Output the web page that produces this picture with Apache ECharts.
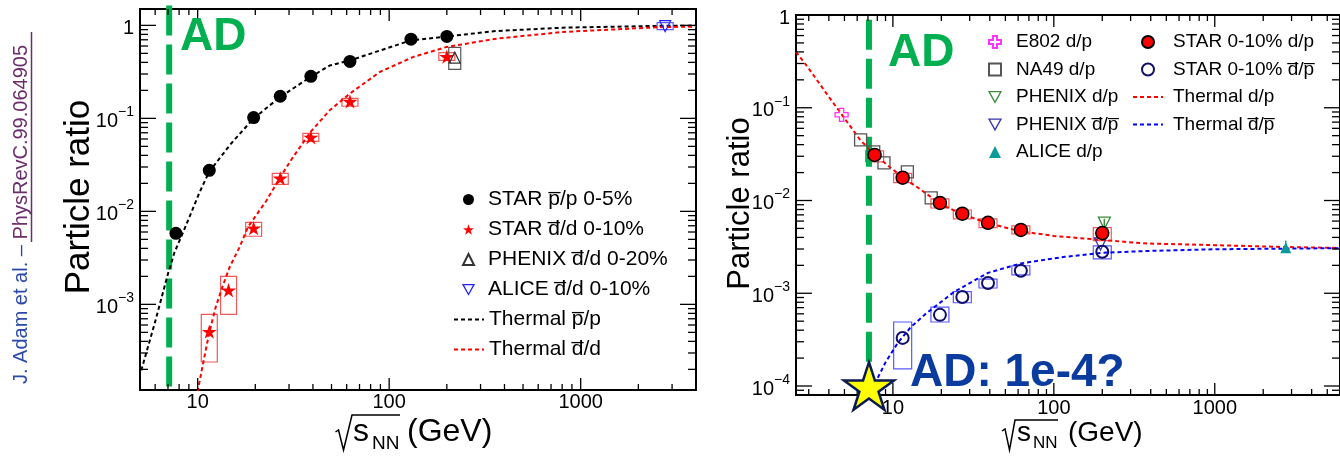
<!DOCTYPE html>
<html><head><meta charset="utf-8">
<script src="https://cdn.jsdelivr.net/npm/echarts@6/dist/echarts.min.js"></script>
<style>html,body{margin:0;padding:0;background:#fff}#c{width:1340px;height:456px}</style>
</head><body><div id="c"></div>
<script>
// ================= DATA : left panel (antinucleus / nucleus ratios) =================
const L_starPP_x = [7.7, 11.5, 19.6, 27, 39, 62.4, 130, 200];
const L_starPP_y = [0.0058, 0.0276, 0.102, 0.173, 0.283, 0.41, 0.71, 0.76];
const L_starDD_x = [11.5, 14.5, 19.6, 27, 39, 62.4, 200];
const L_starDD_y = [5.1e-4, 1.42e-3, 6.6e-3, 0.0227, 0.0625, 0.152, 0.46];
const L_starDD_lo = [2.4e-4, 7.8e-4, 5.4e-3, 0.0195, 0.0566, 0.135, 0.42];
const L_starDD_hi = [7.8e-4, 2.0e-3, 7.6e-3, 0.0256, 0.069, 0.164, 0.51];
const L_phenixDD_x = [220];
const L_phenixDD_y = [0.45];
const L_phenixDD_lo = [0.336];
const L_phenixDD_hi = [0.58];
const L_aliceDD_x = [2760];
const L_aliceDD_y = [0.98];
const L_aliceDD_lo = [0.9];
const L_aliceDD_hi = [1.07];
const L_thermPP_x = [5.08, 5.5, 5.96, 6.46, 7.0, 7.58, 8.38, 9.08, 10.2, 11.5, 15, 19.6, 27, 39, 48.9, 62.4, 130, 200, 363, 810, 2700, 4000];
const L_thermPP_y = [1.95e-4, 3.48e-4, 6.2e-4, 1.15e-3, 2.14e-3, 3.65e-3, 5.9e-3, 8.8e-3, 0.0158, 0.0268, 0.054, 0.10, 0.17, 0.28, 0.37, 0.42, 0.69, 0.76, 0.87, 0.945, 0.99, 0.995];
const L_thermDD_x = [10.0, 10.1, 10.75, 11.47, 12.42, 13.45, 14.69, 16.56, 18.3, 22.9, 27.0, 31.5, 38.8, 48.9, 62.2, 89.2, 133, 199, 363, 810, 2700, 4000];
const L_thermDD_y = [1.15e-4, 1.29e-4, 2.5e-4, 4.84e-4, 9.35e-4, 1.53e-3, 2.52e-3, 4.13e-3, 6.78e-3, 0.0131, 0.0234, 0.0384, 0.0713, 0.122, 0.184, 0.315, 0.456, 0.585, 0.72, 0.85, 0.96, 0.97];

// ================= DATA : right panel (d/p ratios) =================
const R_e802_x = [4.8];
const R_e802_y = [0.084];
const R_na49_x = [6.3, 7.6, 8.8, 12.3, 17.3];
const R_na49_y = [0.045, 0.0335, 0.0255, 0.0204, 0.0107];
const R_starDP_x = [7.7, 11.5, 19.6, 27, 39, 62.4, 200];
const R_starDP_y = [0.031, 0.0176, 9.4e-3, 7.2e-3, 5.75e-3, 4.82e-3, 4.45e-3];
const R_starDP_lo = [0.0261, 0.0156, 8.3e-3, 6.35e-3, 5.1e-3, 4.37e-3, 3.7e-3];
const R_starDP_hi = [0.0343, 0.0196, 0.0104, 7.9e-3, 6.35e-3, 5.33e-3, 5.1e-3];
const R_starDbPb_x = [11.5, 19.6, 27, 39, 62.4, 200];
const R_starDbPb_y = [3.3e-4, 5.85e-4, 9.1e-4, 1.29e-3, 1.75e-3, 2.8e-3];
const R_starDbPb_lo = [1.53e-4, 4.9e-4, 7.9e-4, 1.14e-3, 1.58e-3, 2.35e-3];
const R_starDbPb_hi = [4.9e-4, 7.1e-4, 1.04e-3, 1.42e-3, 1.98e-3, 3.25e-3];
const R_phenixDP_x = [206];
const R_phenixDP_y = [5.7e-3];
const R_phenixDP_lo = [5.2e-3];
const R_phenixDP_hi = [6.35e-3];
const R_phenixDbPb_x = [195];
const R_phenixDbPb_y = [3.4e-3];
const R_aliceDP_x = [2760];
const R_aliceDP_y = [3.1e-3];
const R_aliceDP_lo = [2.75e-3];
const R_aliceDP_hi = [3.7e-3];
const R_thermDP_x = [2.5, 3, 4, 4.8, 6.2, 7.7, 11.5, 15, 19.6, 27, 39, 62.4, 100, 200, 363, 1000, 2760, 6000];
const R_thermDP_y = [0.40, 0.265, 0.131, 0.085, 0.046, 0.031, 0.0178, 0.013, 9.2e-3, 7.1e-3, 5.7e-3, 4.65e-3, 4.15e-3, 3.75e-3, 3.45e-3, 3.3e-3, 3.15e-3, 3.08e-3];
const R_thermDbPb_x = [7.7, 9, 10.7, 12.9, 16, 23.9, 39, 62.4, 117, 200, 363, 1000, 2760, 6000];
const R_thermDbPb_y = [1.05e-4, 1.8e-4, 2.9e-4, 4.3e-4, 6.0e-4, 1.03e-3, 1.66e-3, 2.1e-3, 2.47e-3, 2.73e-3, 2.85e-3, 2.98e-3, 3.03e-3, 3.06e-3];
const AD_energy = [7.1];
const AD_expect = [1e-4];
const AD_left_y = [1.64, 1.2e-4];
const AD_right_y = [0.89, 8e-5];

// ================= axis ranges & ticks =================
const L_xRange = [5, 4000], L_yRange = [1.2e-4, 1.5];
const R_xRange = [2.5, 6000], R_yRange = [8e-5, 1];
const L_xMajor = [10, 100, 1000];
const L_xMinor = [6,7,8,9,20,30,40,50,60,70,80,90,200,300,400,500,600,700,800,900,2000,3000];
const L_yMajor = [1e-3, 1e-2, 1e-1, 1];
const L_yMinor = [2e-4,3e-4,4e-4,5e-4,6e-4,7e-4,8e-4,9e-4,2e-3,3e-3,4e-3,5e-3,6e-3,7e-3,8e-3,9e-3,0.02,0.03,0.04,0.05,0.06,0.07,0.08,0.09,0.2,0.3,0.4,0.5,0.6,0.7,0.8,0.9];
const R_xMajor = [10, 100, 1000];
const R_xMinor = [3,4,5,6,7,8,9,20,30,40,50,60,70,80,90,200,300,400,500,600,700,800,900,2000,3000,4000,5000];
const R_yMajor = [1e-4, 1e-3, 1e-2, 1e-1, 1];
const R_yMinor = [9e-5,2e-4,3e-4,4e-4,5e-4,6e-4,7e-4,8e-4,9e-4,2e-3,3e-3,4e-3,5e-3,6e-3,7e-3,8e-3,9e-3,0.02,0.03,0.04,0.05,0.06,0.07,0.08,0.09,0.2,0.3,0.4,0.5,0.6,0.7,0.8,0.9];

// ================= styles =================
const FF = '"Liberation Sans", Arial, Helvetica, sans-serif';
const GREEN = '#00b050';
const OL = '\u0305';
const N = {
  Lpp: 'STAR p' + OL + '/p 0-5%', Ldd: 'STAR d' + OL + '/d 0-10%', Lph: 'PHENIX d' + OL + '/d 0-20%',
  Lal: 'ALICE d' + OL + '/d 0-10%', Ltp: 'Thermal p' + OL + '/p', Ltd: 'Thermal d' + OL + '/d',
  Re8: 'E802 d/p', Rna: 'NA49 d/p', Rph: 'PHENIX d/p', Rphb: 'PHENIX d' + OL + '/p' + OL, Ral: 'ALICE d/p',
  Rsd: 'STAR 0-10% d/p', Rsdb: 'STAR 0-10% d' + OL + '/p' + OL, Rtd: 'Thermal d/p', Rtdb: 'Thermal d' + OL + '/p' + OL
};
function starPath() {
  let s = 'path://';
  for (let i = 0; i < 10; i++) {
    const r = i % 2 ? 0.382 : 1, a = -Math.PI / 2 + i * Math.PI / 5;
    s += (i ? 'L' : 'M') + (r * Math.cos(a)).toFixed(4) + ' ' + (r * Math.sin(a)).toFixed(4) + ' ';
  }
  return s + 'Z';
}
const STAR = starPath();
const CROSS = 'path://M-0.33 -1L0.33 -1L0.33 -0.33L1 -0.33L1 0.33L0.33 0.33L0.33 1L-0.33 1L-0.33 0.33L-1 0.33L-1 -0.33L-0.33 -0.33Z';
const DOWN_TRI = 'path://M-1 -0.9L1 -0.9L0 0.9Z';
const zip = (xs, ys) => xs.map((x, i) => [x, ys[i]]);

function expLabel(v) {
  const e = Math.round(Math.log10(v));
  if (e === 0) return '{b|1}';
  return '{b|10}{s|' + (e < 0 ? '\u2212' : '') + Math.abs(e) + '}';
}
const yRich = {
  b: { fontSize: 20, lineHeight: 26, verticalAlign: 'bottom', fontFamily: FF, color: '#000' },
  s: { fontSize: 14, lineHeight: 14, verticalAlign: 'top', fontFamily: FF, color: '#000' }
};
function xAxisDef(gi, r) {
  return { type: 'log', logBase: 10, gridIndex: gi, min: r[0], max: r[1],
    axisLine: { show: false }, axisTick: { show: false }, splitLine: { show: false },
    axisLabel: { fontSize: 20, fontFamily: FF, color: '#000', margin: gi ? 3 : 2, showMinLabel: false, showMaxLabel: false,
      formatter: v => String(Math.round(v)) } };
}
function yAxisDef(gi, r, hideMax) {
  return { type: 'log', logBase: 10, gridIndex: gi, min: r[0], max: r[1],
    axisLine: { show: false }, axisTick: { show: false }, splitLine: { show: false },
    axisLabel: { margin: 6, showMinLabel: false, showMaxLabel: !hideMax, formatter: expLabel, rich: yRich } };
}
function tickSeries(gi, dir, vals, len, anchor) {
  return { type: 'custom', xAxisIndex: gi, yAxisIndex: gi, silent: true, clip: false, z: 5,
    data: vals.map(v => dir === 'x' ? [v, anchor] : [anchor, v]),
    renderItem: (params, api) => {
      const cs = params.coordSys;
      const p = api.coord([api.value(0), api.value(1)]);
      let sh;
      if (dir === 'x') { const x = p[0]; sh = [[x, cs.y + cs.height, x, cs.y + cs.height - len], [x, cs.y, x, cs.y + len]]; }
      else { const y = p[1]; sh = [[cs.x, y, cs.x + len, y], [cs.x + cs.width, y, cs.x + cs.width - len, y]]; }
      return { type: 'group', children: sh.map(s => ({ type: 'line', shape: { x1: s[0], y1: s[1], x2: s[2], y2: s[3] }, style: { stroke: '#000', lineWidth: 1.3 } })) };
    } };
}
function boxSeries(gi, xs, lo, hi, color, w) {
  return { type: 'custom', xAxisIndex: gi, yAxisIndex: gi, silent: true, z: 2,
    data: xs.map((x, i) => [x, lo[i], hi[i]]), encode: { x: 0, y: [1, 2] },
    renderItem: (params, api) => {
      const a = api.coord([api.value(0), api.value(1)]);
      const b = api.coord([api.value(0), api.value(2)]);
      return { type: 'rect', shape: { x: a[0] - w / 2, y: b[1], width: w, height: a[1] - b[1] },
        style: { fill: 'none', stroke: color, lineWidth: 1.2 } };
    } };
}
function errSeries(gi, xs, lo, hi, color) {
  return { type: 'custom', xAxisIndex: gi, yAxisIndex: gi, silent: true, z: 3,
    data: xs.map((x, i) => [x, lo[i], hi[i]]), encode: { x: 0, y: [1, 2] },
    renderItem: (params, api) => {
      const a = api.coord([api.value(0), api.value(1)]);
      const b = api.coord([api.value(0), api.value(2)]);
      return { type: 'line', shape: { x1: a[0], y1: a[1], x2: b[0], y2: b[1] }, style: { stroke: color, lineWidth: 1.5 } };
    } };
}
function thermal(gi, name, xs, ys, color) {
  return { type: 'line', name, xAxisIndex: gi, yAxisIndex: gi, data: zip(xs, ys), symbol: 'none', showSymbol: false, z: 3,
    lineStyle: { color, width: 2, type: [4, 3] }, itemStyle: { color } };
}
function scatter(gi, name, xs, ys, symbol, size, style, extra) {
  return Object.assign({ type: 'scatter', name, xAxisIndex: gi, yAxisIndex: gi, data: zip(xs, ys), symbol,
    symbolSize: size, symbolKeepAspect: true, itemStyle: Object.assign({ opacity: 1 }, style), z: 4 }, extra || {});
}
const adLine = (gi, ys) => ({ type: 'line', xAxisIndex: gi, yAxisIndex: gi, data: ys.map(y => [AD_energy[0], y]),
  symbol: 'none', clip: false, silent: true, z: 2, lineStyle: { color: GREEN, width: 6, type: [30, 9] } });

const openStyle = (c, w) => ({ color: 'transparent', borderColor: c, borderWidth: w || 1.5 });
const lineItem = n => ({ name: n, itemStyle: { color: 'rgba(0,0,0,0)', borderColor: 'rgba(0,0,0,0)', borderWidth: 0, opacity: 0 } });
const downItem = (n, c) => ({ name: n, icon: DOWN_TRI, itemStyle: { color: 'rgba(0,0,0,0)', borderColor: c, borderWidth: 1.3 } });
function legendDef(left, top, iw, ih, gap, fs, padL, data) {
  return { left, top, orient: 'vertical', padding: 0, itemWidth: iw, itemHeight: ih, itemGap: gap,
    textStyle: { fontSize: fs, lineHeight: fs, color: '#000', fontFamily: FF, padding: [0, 0, 0, padL] }, data };
}

const option = {
  animation: false,
  textStyle: { fontFamily: FF },
  grid: [
    { left: 140, top: 9, width: 556, height: 381, show: true, borderColor: '#000', borderWidth: 2, backgroundColor: 'transparent' },
    { left: 796, top: 15, width: 553, height: 380, show: true, borderColor: '#000', borderWidth: 2, backgroundColor: 'transparent' }
  ],
  xAxis: [xAxisDef(0, L_xRange), xAxisDef(1, R_xRange)],
  yAxis: [yAxisDef(0, L_yRange, true), yAxisDef(1, R_yRange, false)],
  legend: [
    legendDef(462, 189, 11, 11, 9, 21, 9, [N.Lpp, N.Ldd, N.Lph, downItem(N.Lal, '#2222ff')]),
    legendDef(453, 309, 30, 11, 9, 21, 0, [lineItem(N.Ltp), lineItem(N.Ltd)]),
    legendDef(988, 32.5, 12, 12, 8.5, 19, 10, [N.Re8, N.Rna, downItem(N.Rph, '#3c8c3c'), downItem(N.Rphb, '#3333aa'), N.Ral]),
    legendDef(1141, 32.5, 12, 12, 8.5, 19, 14, [N.Rsd, N.Rsdb]),
    legendDef(1132, 87.5, 30, 12, 8.5, 19, 5, [lineItem(N.Rtd), lineItem(N.Rtdb)])
  ],
  series: [
    // ---- left panel ----
    adLine(0, AD_left_y),
    boxSeries(0, L_starDD_x, L_starDD_lo, L_starDD_hi, '#f05a5a', 16),
    boxSeries(0, L_phenixDD_x, L_phenixDD_lo, L_phenixDD_hi, '#555', 12),
    boxSeries(0, L_aliceDD_x, L_aliceDD_lo, L_aliceDD_hi, '#5a5aff', 16),
    thermal(0, N.Ltp, L_thermPP_x, L_thermPP_y, '#000'),
    thermal(0, N.Ltd, L_thermDD_x, L_thermDD_y, '#ff0000'),
    scatter(0, N.Lpp, L_starPP_x, L_starPP_y, 'circle', 13, { color: '#000' }),
    scatter(0, N.Ldd, L_starDD_x, L_starDD_y, STAR, 15, { color: '#ff0000' }),
    scatter(0, N.Lph, L_phenixDD_x, L_phenixDD_y, 'triangle', 11, openStyle('#333', 1.2)),
    scatter(0, N.Lal, L_aliceDD_x, L_aliceDD_y, 'triangle', 11, openStyle('#2222ff', 1.2), { symbolRotate: 180 }),
    tickSeries(0, 'x', L_xMajor, 12, L_yRange[0]),
    tickSeries(0, 'x', L_xMinor, 6, L_yRange[0]),
    tickSeries(0, 'y', L_yMajor, 16, L_xRange[0]),
    tickSeries(0, 'y', L_yMinor, 8, L_xRange[0]),
    // ---- right panel ----
    adLine(1, AD_right_y),
    boxSeries(1, R_starDP_x, R_starDP_lo, R_starDP_hi, '#f05a5a', 18),
    boxSeries(1, R_starDbPb_x, R_starDbPb_lo, R_starDbPb_hi, '#5a5aff', 18),
    errSeries(1, R_phenixDP_x, R_phenixDP_lo, R_phenixDP_hi, '#3c8c3c'),
    errSeries(1, R_aliceDP_x, R_aliceDP_lo, R_aliceDP_hi, '#0a9a9a'),
    thermal(1, N.Rtd, R_thermDP_x, R_thermDP_y, '#ff0000'),
    thermal(1, N.Rtdb, R_thermDbPb_x, R_thermDbPb_y, '#0000ff'),
    scatter(1, N.Re8, R_e802_x, R_e802_y, CROSS, 13, openStyle('#ff33ff', 1.3)),
    scatter(1, N.Rna, R_na49_x, R_na49_y, 'rect', 12, openStyle('#555', 1.3)),
    scatter(1, N.Rph, R_phenixDP_x, R_phenixDP_y, 'triangle', 12, openStyle('#3c8c3c', 1.3), { symbolRotate: 180 }),
    scatter(1, N.Rphb, R_phenixDbPb_x, R_phenixDbPb_y, 'triangle', 12, openStyle('#3333aa', 1.3), { symbolRotate: 180 }),
    scatter(1, N.Ral, R_aliceDP_x, R_aliceDP_y, 'triangle', 11, { color: '#0a9a9a' }),
    scatter(1, N.Rsd, R_starDP_x, R_starDP_y, 'circle', 13, { color: '#ff0000', borderColor: '#000', borderWidth: 1.5 }),
    scatter(1, N.Rsdb, R_starDbPb_x, R_starDbPb_y, 'circle', 12, openStyle('#10106a', 2)),
    scatter(1, 'AD expectation', AD_energy, AD_expect, STAR, 50, { color: '#ffff00', borderColor: '#0a1a50', borderWidth: 2.5 }, { z: 8 }),
    tickSeries(1, 'x', R_xMajor, 12, R_yRange[0]),
    tickSeries(1, 'x', R_xMinor, 6, R_yRange[0]),
    tickSeries(1, 'y', R_yMajor, 16, R_xRange[0]),
    tickSeries(1, 'y', R_yMinor, 8, R_xRange[0])
  ],
  graphic: [
    { type: 'text', x: 180, y: 37.7, z: 50, style: { text: 'AD', fontSize: 46, fontWeight: 'bold', fontFamily: FF, fill: GREEN, align: 'left', verticalAlign: 'middle' } },
    { type: 'text', x: 888, y: 53.7, z: 50, style: { text: 'AD', fontSize: 46, fontWeight: 'bold', fontFamily: FF, fill: GREEN, align: 'left', verticalAlign: 'middle' } },
    { type: 'text', x: 910, y: 373.7, z: 50, style: { text: 'AD: 1e-4?', fontSize: 46, fontWeight: 'bold', fontFamily: FF, fill: '#0a3ca0', align: 'left', verticalAlign: 'middle' } },
    // y titles
    { type: 'text', x: 79.8, y: 197, rotation: Math.PI / 2, z: 50, style: { text: 'Particle ratio', fontSize: 35, fontFamily: FF, fill: '#000', align: 'center', verticalAlign: 'middle' } },
    { type: 'text', x: 740.4, y: 203.5, rotation: Math.PI / 2, z: 50, style: { text: 'Particle ratio', fontSize: 31, fontFamily: FF, fill: '#000', align: 'center', verticalAlign: 'middle' } },
    // x titles
    { type: 'polyline', z: 50, shape: { points: [[335.5, 432], [338.5, 430], [343.5, 450], [352, 415], [400, 415]] }, style: { stroke: '#000', lineWidth: 1.5, fill: null } },
    { type: 'text', x: 353, y: 432, z: 50, style: { text: 's', fontSize: 32, fontFamily: FF, fill: '#000', align: 'left', verticalAlign: 'middle' } },
    { type: 'text', x: 372, y: 444, z: 50, style: { text: 'NN', fontSize: 19, fontFamily: FF, fill: '#000', align: 'left', verticalAlign: 'middle' } },
    { type: 'text', x: 407, y: 432, z: 50, style: { text: '(GeV)', fontSize: 32, fontFamily: FF, fill: '#000', align: 'left', verticalAlign: 'middle' } },
    { type: 'polyline', z: 50, shape: { points: [[1002, 431], [1005, 429], [1009.5, 450], [1015, 420], [1058, 420]] }, style: { stroke: '#000', lineWidth: 1.5, fill: null } },
    { type: 'text', x: 1017, y: 433, z: 50, style: { text: 's', fontSize: 28, fontFamily: FF, fill: '#000', align: 'left', verticalAlign: 'middle' } },
    { type: 'text', x: 1033, y: 443.7, z: 50, style: { text: 'NN', fontSize: 17, fontFamily: FF, fill: '#000', align: 'left', verticalAlign: 'middle' } },
    { type: 'text', x: 1068, y: 433, z: 50, style: { text: '(GeV)', fontSize: 28, fontFamily: FF, fill: '#000', align: 'left', verticalAlign: 'middle' } },
    // citation
    { type: 'text', x: 21.8, y: 214.5, rotation: Math.PI / 2, z: 50, style: { text: '{a|J. Adam et al. \u2013 }{b|PhysRevC.99.064905}', align: 'center', verticalAlign: 'middle',
      rich: { a: { fontSize: 20, fontFamily: FF, fill: '#2b4aa8' }, b: { fontSize: 20, fontFamily: FF, fill: '#6b2d6b' } } } },
    { type: 'line', z: 50, shape: { x1: 31.5, y1: 32, x2: 31.5, y2: 242 }, style: { stroke: '#6b2d6b', lineWidth: 1.5 } }
  ]
};
const chart = echarts.init(document.getElementById('c'), null, { renderer: 'canvas', devicePixelRatio: 1 });
chart.setOption(option);
</script>
</body></html>
